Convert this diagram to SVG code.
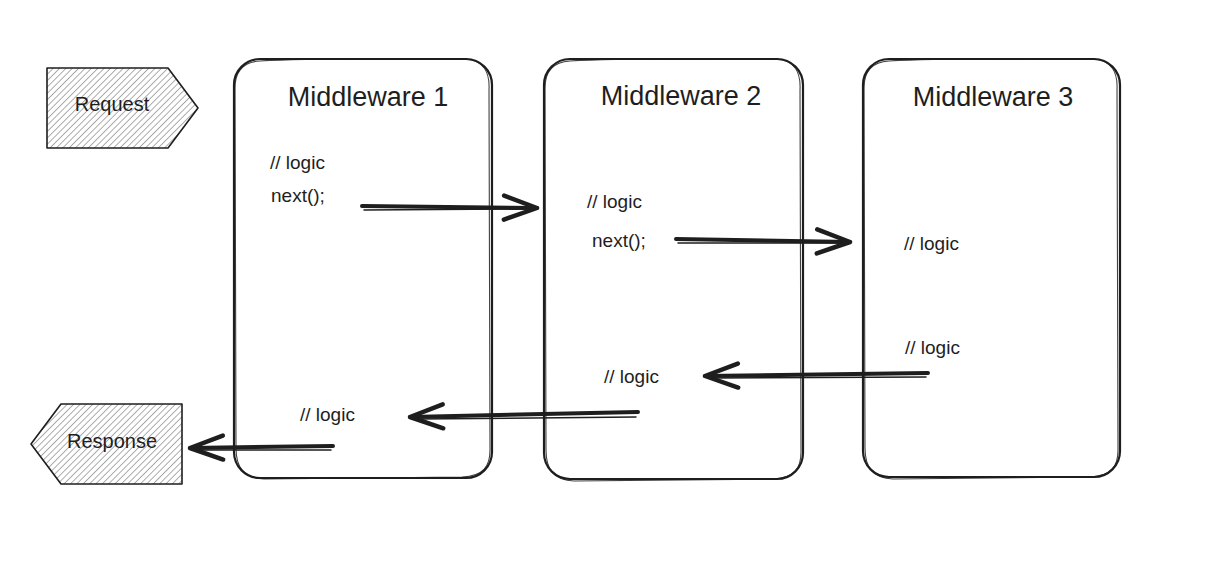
<svg xmlns="http://www.w3.org/2000/svg" width="1210" height="566" viewBox="0 0 1210 566">
<style>
.box{fill:none;stroke:#1e1e1e;stroke-width:2.2;stroke-linejoin:round}
.box2{fill:none;stroke:#1e1e1e;stroke-width:1.1;opacity:0.85}
.title{font-family:"Liberation Sans","DejaVu Sans",sans-serif;font-size:27px;fill:#1e1e1e;text-anchor:middle}
.code{font-family:"Liberation Sans","DejaVu Sans",sans-serif;font-size:19px;fill:#1e1e1e}
.lbl{font-family:"Liberation Sans","DejaVu Sans",sans-serif;font-size:20px;fill:#1e1e1e;text-anchor:middle}
.arrow{fill:none;stroke:#1e1e1e;stroke-width:4;stroke-linecap:round;marker-end:url(#head)}
.arrow2{fill:none;stroke:#1e1e1e;stroke-width:1.5;stroke-linecap:round}
.tag{fill:url(#hatch);stroke:#1e1e1e;stroke-width:1.6;stroke-linejoin:round}
</style>
<defs>
<pattern id="hatch" patternUnits="userSpaceOnUse" width="4.5" height="4.5" patternTransform="rotate(45)">
<rect width="4.5" height="4.5" fill="#ffffff"/>
<line x1="0" y1="0" x2="0" y2="4.5" stroke="#8a8a8a" stroke-width="1.4"/>
</pattern>
<marker id="head" markerUnits="userSpaceOnUse" viewBox="0 0 40 30" refX="37" refY="15" markerWidth="40" markerHeight="30" orient="auto">
<path d="M4,3 L37,15 L4,27" fill="none" stroke="#1e1e1e" stroke-width="4.5" stroke-linecap="round" stroke-linejoin="round"/>
</marker>
</defs>
<rect width="1210" height="566" fill="#ffffff"/>

<g id="request">
<path class="tag" d="M47,68 L168,68 L198,108 L168,148 L47,148 Z"/>
<text class="lbl" x="112" y="111">Request</text>
</g>

<g id="response">
<path class="tag" d="M182,404 L61,404 L31,444 L61,484 L182,484 Z"/>
<text class="lbl" x="112" y="448">Response</text>
</g>

<g id="middleware1">
<rect class="box" x="234" y="59" width="258" height="419" rx="26"/>
<path class="box2" d="M260,61 C330,57 420,60 466,59 C484,61 490,72 489,90 L490,450 C490,466 484,476 462,477 L264,479 C244,478 236,468 236,448 L235,88 C235,70 244,62 260,61 Z"/>
<text class="title" x="368" y="106">Middleware 1</text>
<text class="code" x="270" y="169">// logic</text>
<text class="code" x="271" y="202">next();</text>
<text class="code" x="300" y="421">// logic</text>
</g>

<g id="middleware2">
<rect class="box" x="544" y="59" width="259" height="420" rx="26"/>
<path class="box2" d="M570,61 C640,57 730,60 777,59 C795,61 801,72 800,90 L801,452 C801,468 795,478 773,479 L574,481 C554,480 546,470 546,450 L545,88 C545,70 554,62 570,61 Z"/>
<text class="title" x="681" y="105">Middleware 2</text>
<text class="code" x="587" y="208">// logic</text>
<text class="code" x="592" y="247">next();</text>
<text class="code" x="604" y="383">// logic</text>
</g>

<g id="middleware3">
<rect class="box" x="863" y="59" width="257" height="418" rx="26"/>
<path class="box2" d="M889,61 C959,57 1049,60 1094,59 C1112,61 1118,72 1117,90 L1118,450 C1118,466 1112,476 1090,477 L893,479 C873,478 865,468 865,448 L864,88 C864,70 873,62 889,61 Z"/>
<text class="title" x="993" y="106">Middleware 3</text>
<text class="code" x="904" y="250">// logic</text>
<text class="code" x="905" y="354">// logic</text>
</g>

<g id="connectors">
<path class="arrow" d="M362,206 L537,208"/>
<path class="arrow2" d="M364,210 L530,209"/>
<path class="arrow" d="M676,239 L850,242"/>
<path class="arrow2" d="M678,243 L842,243"/>
<path class="arrow" d="M928,373 L705,376"/>
<path class="arrow2" d="M926,377 L712,378"/>
<path class="arrow" d="M638,412 L410,417"/>
<path class="arrow2" d="M636,417 L418,419"/>
<path class="arrow" d="M333,446 L190,448"/>
<path class="arrow2" d="M331,450 L198,450"/>
</g>
</svg>
